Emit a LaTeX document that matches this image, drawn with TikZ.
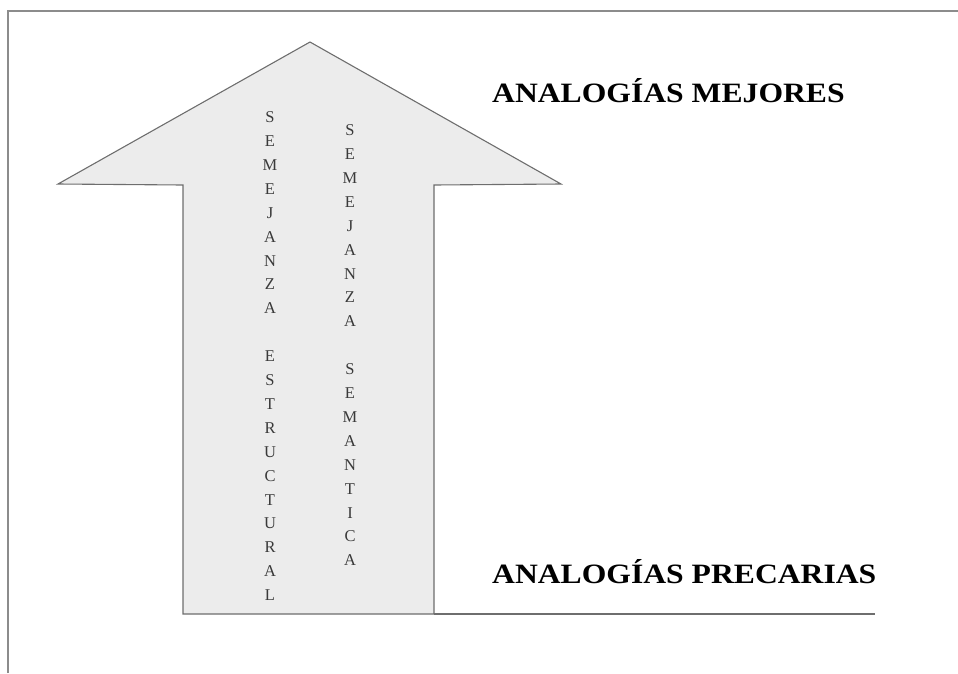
\documentclass[tikz,border=0pt]{standalone}
\usepackage{fontspec}
\setmainfont{Liberation Serif}
\definecolor{arrowfill}{HTML}{ECECEC}
\definecolor{edgegray}{HTML}{6E6E6E}
\definecolor{framegray}{HTML}{8C8C8C}
\definecolor{lettergray}{HTML}{3A3A3A}
\tikzset{
  heading/.style={anchor=base west, inner sep=0pt, text=black,
    font=\fontsize{28}{30}\bfseries},
  vletter/.style={anchor=base, inner sep=0pt, text=lettergray,
    font=\fontsize{16.5}{18}\selectfont},
  arrowshape/.style={fill=arrowfill, draw=edgegray, line width=1.1pt, line join=miter},
  framestyle/.style={draw=framegray, line width=1.4pt},
  baseline/.style={draw=edgegray, line width=1.2pt}
}
\begin{document}
\begin{tikzpicture}[x=1pt,y=-1pt]
\useasboundingbox (0,0) rectangle (958,673);
% frame (left and top edges)
\coordinate (fbl) at (8,673);
\coordinate (ftl) at (8,11);
\coordinate (ftr) at (958,11);
\draw[framestyle] (fbl) -- (ftl) -- (ftr);
% arrow
\coordinate (sbl) at (183,614);
\coordinate (stl) at (183,185);
\coordinate (hl) at (58,184);
\coordinate (apex) at (310,42);
\coordinate (hr) at (561,184);
\coordinate (str) at (434,185);
\coordinate (sbr) at (434,614);
\coordinate (lineend) at (875,614);
\draw[arrowshape] (sbl) -- (stl) -- (hl) -- (apex) -- (hr) -- (str) -- (sbr) -- cycle;
\draw[baseline] (sbr) -- (lineend);
% vertical letters, left column
\foreach \l [count=\i from 0] in {S,E,M,E,J,A,N,Z,A}
  \node[vletter] (la\i) at (270,{117+23.9*\i+5.6}) {\l};
\foreach \l [count=\i from 10] in {E,S,T,R,U,C,T,U,R,A,L}
  \node[vletter] (lb\i) at (270,{117+23.9*\i+5.6}) {\l};
% vertical letters, right column
\foreach \l [count=\i from 0] in {S,E,M,E,J,A,N,Z,A}
  \node[vletter] (ra\i) at (350,{130+23.9*\i+5.6}) {\l};
\foreach \l [count=\i from 10] in {S,E,M,A,N,T,I,C,A}
  \node[vletter] (rb\i) at (350,{130+23.9*\i+5.6}) {\l};
% headings
\node[heading] (mejores) at (492,102) {\scalebox{1.13}[1]{ANALOGÍAS MEJORES}};
\node[heading] (precarias) at (492,583) {\scalebox{1.13}[1]{ANALOGÍAS PRECARIAS}};
\end{tikzpicture}
\end{document}
